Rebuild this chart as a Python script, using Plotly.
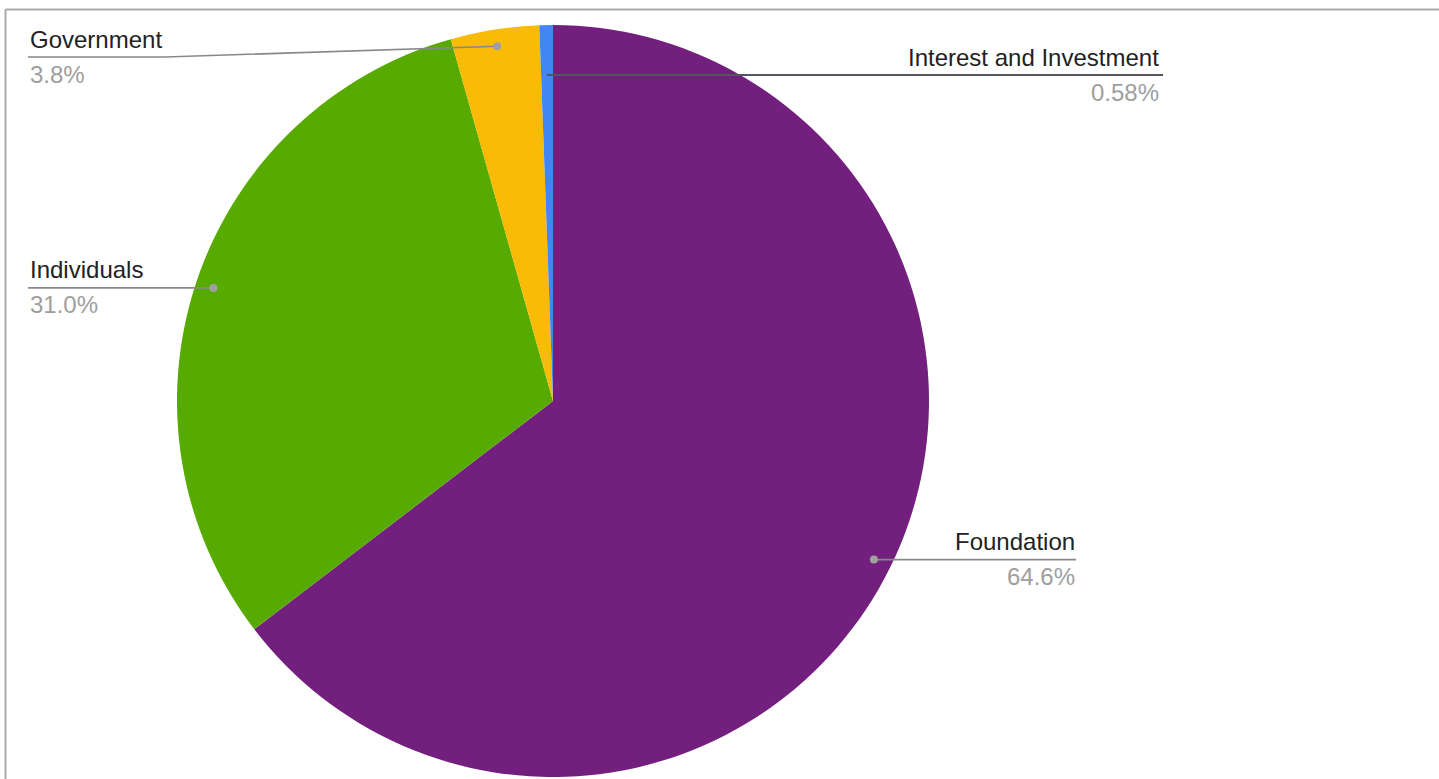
import math
import plotly.graph_objects as go

W, H = 1439, 779

categories = ["Foundation", "Individuals", "Government", "Interest and Investment"]
values = [64.6, 31.0, 3.8, 0.58]
pct_labels = ["64.6%", "31.0%", "3.8%", "0.58%"]
colors = ["#731f7e", "#57ab00", "#f9bb06", "#4285f4"]

# pie geometry in pixels (layout)
CX, CY, R = 553, 401, 376


def px(x):
    return x / W


def py(y):
    return 1 - y / H


fig = go.Figure(go.Pie(
    labels=categories,
    values=values,
    sort=False,
    direction="clockwise",
    rotation=0,
    marker=dict(colors=colors, line=dict(color="white", width=0)),
    textinfo="none",
    hoverinfo="label+percent",
    domain=dict(x=[px(CX - R), px(CX + R)], y=[py(CY + R), py(CY - R)]),
    showlegend=False,
))

# label layout settings
label_cfg = {
    "Foundation": dict(rf=0.952, end_x=1076, text_x=1077, side="right", color="#888888", dot=True),
    "Individuals": dict(rf=0.952, end_x=28, text_x=28, side="left", color="#888888", dot=True),
    "Government": dict(rf=0.955, end_x=28, text_x=28, side="left", color="#888888", dot=True, bend_x=165, line_y=57),
    "Interest and Investment": dict(rf=0.867, end_x=1163, text_x=1161, side="right", color="#55555f", dot=False),
}

FONT = "Arial, Liberation Sans, Arimo, sans-serif"
total = sum(values)
shapes = []
annotations = []
cum = 0.0
for cat, val, pct in zip(categories, values, pct_labels):
    mid = (cum + val / 2) / total * 2 * math.pi
    cum += val
    cfg = label_cfg[cat]
    r = R * cfg["rf"]
    dx = CX + r * math.sin(mid)
    dy = CY - r * math.cos(mid)
    ly = cfg.get("line_y", dy)
    if "bend_x" in cfg:
        path = f"M {px(dx)} {py(dy)} L {px(cfg['bend_x'])} {py(ly)} L {px(cfg['end_x'])} {py(ly)}"
    else:
        path = f"M {px(dx)} {py(dy)} L {px(cfg['end_x'])} {py(ly)}"
    shapes.append(dict(type="path", xref="paper", yref="paper", path=path,
                       line=dict(color=cfg["color"], width=2 if not cfg["dot"] else 1.6)))
    if cfg["dot"]:
        shapes.append(dict(type="circle", xref="paper", yref="paper",
                           x0=px(dx - 4), x1=px(dx + 4), y0=py(dy + 4), y1=py(dy - 4),
                           fillcolor="#a0a0a0", line=dict(width=0)))
    tx = cfg["text_x"]
    xa = "right" if cfg["side"] == "right" else "left"
    annotations.append(dict(x=px(tx), y=py(ly - 18), xref="paper", yref="paper",
                            text=cat, showarrow=False, xanchor=xa, yanchor="middle",
                            font=dict(family=FONT, size=24, color="#222222")))
    annotations.append(dict(x=px(tx), y=py(ly + 17), xref="paper", yref="paper",
                            text=pct, showarrow=False, xanchor=xa, yanchor="middle",
                            font=dict(family=FONT, size=24, color="#9e9e9e")))

# container border (top and left edges)
shapes.append(dict(type="line", xref="paper", yref="paper", x0=px(5.5), x1=1.01, y0=py(9.5), y1=py(9.5),
                   line=dict(color="#aaaaaa", width=2)))
shapes.append(dict(type="line", xref="paper", yref="paper", x0=px(5.5), x1=px(5.5), y0=py(9.5), y1=-0.01,
                   line=dict(color="#aaaaaa", width=2)))

fig.update_layout(
    width=W, height=H,
    margin=dict(l=0, r=0, t=0, b=0),
    paper_bgcolor="white",
    plot_bgcolor="white",
    shapes=shapes,
    annotations=annotations,
)

fig.write_html("out.html")
